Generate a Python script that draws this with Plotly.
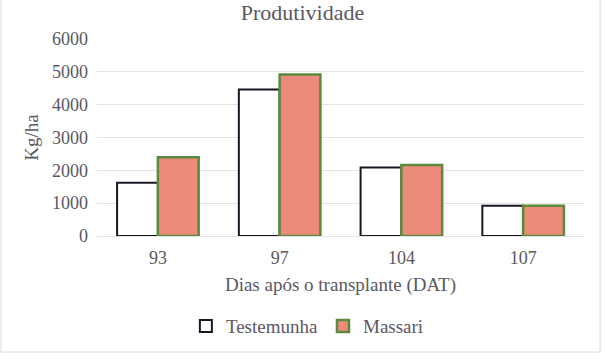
import plotly.graph_objects as go

categories = ["93", "97", "104", "107"]
testemunha = [1620, 4460, 2090, 925]
massari = [2400, 4920, 2160, 920]
y_ticks = [0, 1000, 2000, 3000, 4000, 5000, 6000]

FONT = "Liberation Serif"
TXT = "#5A5862"

fig = go.Figure()
fig.add_trace(go.Bar(
    x=categories, y=testemunha, name="Testemunha",
    marker=dict(color="white", line=dict(color="#1b1526", width=2)),
))
fig.add_trace(go.Bar(
    x=categories, y=massari, name="Massari",
    marker=dict(color="#EC8B7B", line=dict(color="#5B8A3E", width=2.5)),
))

fig.update_layout(
    width=605, height=361,
    margin=dict(l=97, r=21, t=39, b=125),
    paper_bgcolor="white", plot_bgcolor="white",
    barmode="group", bargap=0.33, bargroupgap=0,
    font=dict(family=FONT, color=TXT, size=18),
    title=dict(text="Produtividade", x=0.5, xanchor="center", y=0.965, yanchor="middle",
               font=dict(family=FONT, size=22, color=TXT)),
    showlegend=True,
    legend=dict(orientation="h", x=0.432, xanchor="center", y=-0.457, yanchor="middle",
                font=dict(family=FONT, size=19, color=TXT), itemwidth=30,
                traceorder="normal"),
    xaxis=dict(type="category", showgrid=False, showline=False, ticks="",
               ticklabelstandoff=9,
               tickfont=dict(family=FONT, size=18, color=TXT),
               title=dict(text="Dias após o transplante (DAT)", standoff=10,
                          font=dict(family=FONT, size=19, color=TXT))),
    yaxis=dict(range=[0, 6000], tickvals=y_ticks, showgrid=True, gridcolor="#E3E3E3",
               gridwidth=1, zeroline=True, zerolinecolor="#E3E3E3", zerolinewidth=1,
               ticks="", ticklabelstandoff=8,
               tickfont=dict(family=FONT, size=18, color=TXT),
               title=dict(text="Kg/ha", standoff=8,
                          font=dict(family=FONT, size=19, color=TXT))),
    shapes=[dict(type="rect", xref="paper", yref="paper",
                 x0=-0.197, x1=1.033, y0=-0.589, y1=1.25,
                 line=dict(color="#D9D9D9", width=1), fillcolor="rgba(0,0,0,0)",
                 layer="below")],
)

fig.write_html("out.html", config={"displayModeBar": False},
               post_script="document.body.style.margin='0';")
